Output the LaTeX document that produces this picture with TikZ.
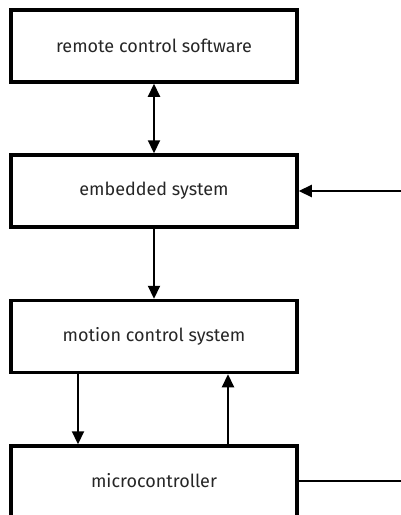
\documentclass[tikz,border=0pt]{standalone}
\usepackage{fontspec}
\setmainfont{Fira Sans}
\usetikzlibrary{arrows.meta}
\begin{document}
\begin{tikzpicture}[x=1pt,y=-1pt,
  lbl/.style={font=\fontsize{18}{21}\selectfont,text=black!85},
  blockbox/.style={draw=black,line width=3.5pt,minimum width=286pt,minimum height=72pt,inner sep=0pt,lbl},
  conn/.style={line width=2.2pt,-{Triangle[length=13pt,width=12pt]}},
  plainline/.style={line width=2.2pt}]
\useasboundingbox (0,0) rectangle (401,515);
\clip (0,0) rectangle (401,515);
\node[blockbox] (rcs) at (154,46) {remote control software};
\node[blockbox] (emb) at (154,191) {embedded system};
\node[blockbox] (mcs) at (154,336.5) {motion control system};
\node[blockbox] (mc) at (154,482) {};
\node[lbl] (mclabel) at (154,481) {microcontroller};
\coordinate (inR) at (402,191);
\coordinate (outR) at (402,481);
\draw[line width=2.2pt,{Triangle[length=13pt,width=12pt]}-{Triangle[length=13pt,width=12pt]}] (rcs.south) -- (emb.north);
\draw[conn] (emb.south) -- (mcs.north);
\draw[conn] (mcs.south -| 78,0) -- (mc.north -| 78,0);
\draw[conn] (mc.north -| 228,0) -- (mcs.south -| 228,0);
\draw[conn] (inR) -- (emb.east);
\draw[plainline] (mc.east |- outR) -- (outR);
\end{tikzpicture}
\end{document}
